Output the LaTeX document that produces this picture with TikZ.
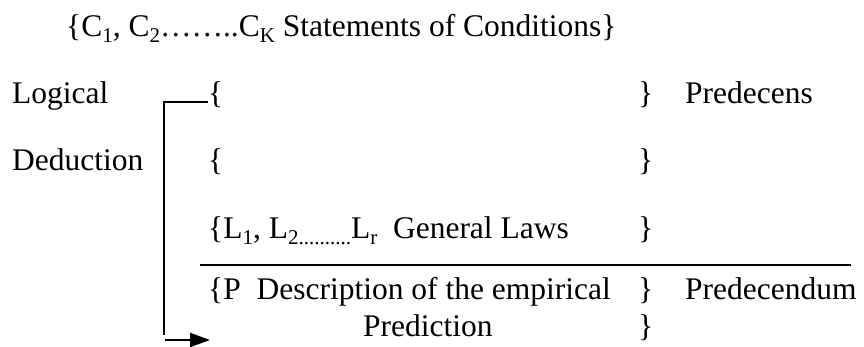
\documentclass[tikz,border=0pt]{standalone}
\usepackage{fontspec}
\setmainfont{Liberation Serif}
\usetikzlibrary{arrows.meta}

\newcommand{\lowidx}[1]{\raisebox{-0.2em}{\fontsize{21}{21}\selectfont #1}}

\tikzset{
  txt/.style={anchor=base west, inner sep=0pt, font=\fontsize{31.5}{37}\selectfont},
  rule/.style={line width=2.2pt},
  pointer/.style={line width=2.2pt, -{Triangle[length=20pt,width=14pt]}}
}

\begin{document}
\begin{tikzpicture}[x=1pt,y=-1pt]
    \useasboundingbox (0,0) rectangle (864,346);

    % statement of conditions
    \node[txt] (cond) at (66,36) {\{C\lowidx{1}, C\lowidx{2}……..C\lowidx{K} Statements of Conditions\}};

    \node[txt] (logical) at (12,103) {Logical};
    \node[txt] (deduction) at (12,170) {Deduction};

    % predecens rows
    \node[txt] (open1) at (208,103) {\{};
    \node[txt] (close1) at (638,103) {\}};
    \node[txt] (predecens) at (685,103) {Predecens};
    \node[txt] (open2) at (208,170) {\{};
    \node[txt] (close2) at (638,170) {\}};
    \node[txt] (laws) at (208,238) {\{L\lowidx{1}, L\lowidx{2..........}L\lowidx{r}\ \ General Laws};
    \node[txt] (close3) at (638,238) {\}};

    % predecendum rows
    \node[txt] (descr) at (208,299) {\{P\ \ Description of the empirical};
    \node[txt] (close4) at (638,299) {\}};
    \node[txt] (predecendum) at (685,299) {Predecendum};
    \node[txt] (predict) at (363,336) {Prediction};
    \node[txt] (close5) at (638,336) {\}};

    \coordinate (ruleL) at (200,265);
    \coordinate (ruleR) at (851,265);
    \draw[rule] (ruleL) -- (ruleR);

    % deduction bracket
    \coordinate (corner) at (164,102);
    \coordinate (foot) at (164,335);
    \coordinate (tailA) at (165,340);
    \coordinate (tailB) at (210,340);
    \draw[rule] (open1.west |- corner) -- (corner) -- (foot);
    \draw[pointer] (tailA) -- (tailB);
\end{tikzpicture}
\end{document}
